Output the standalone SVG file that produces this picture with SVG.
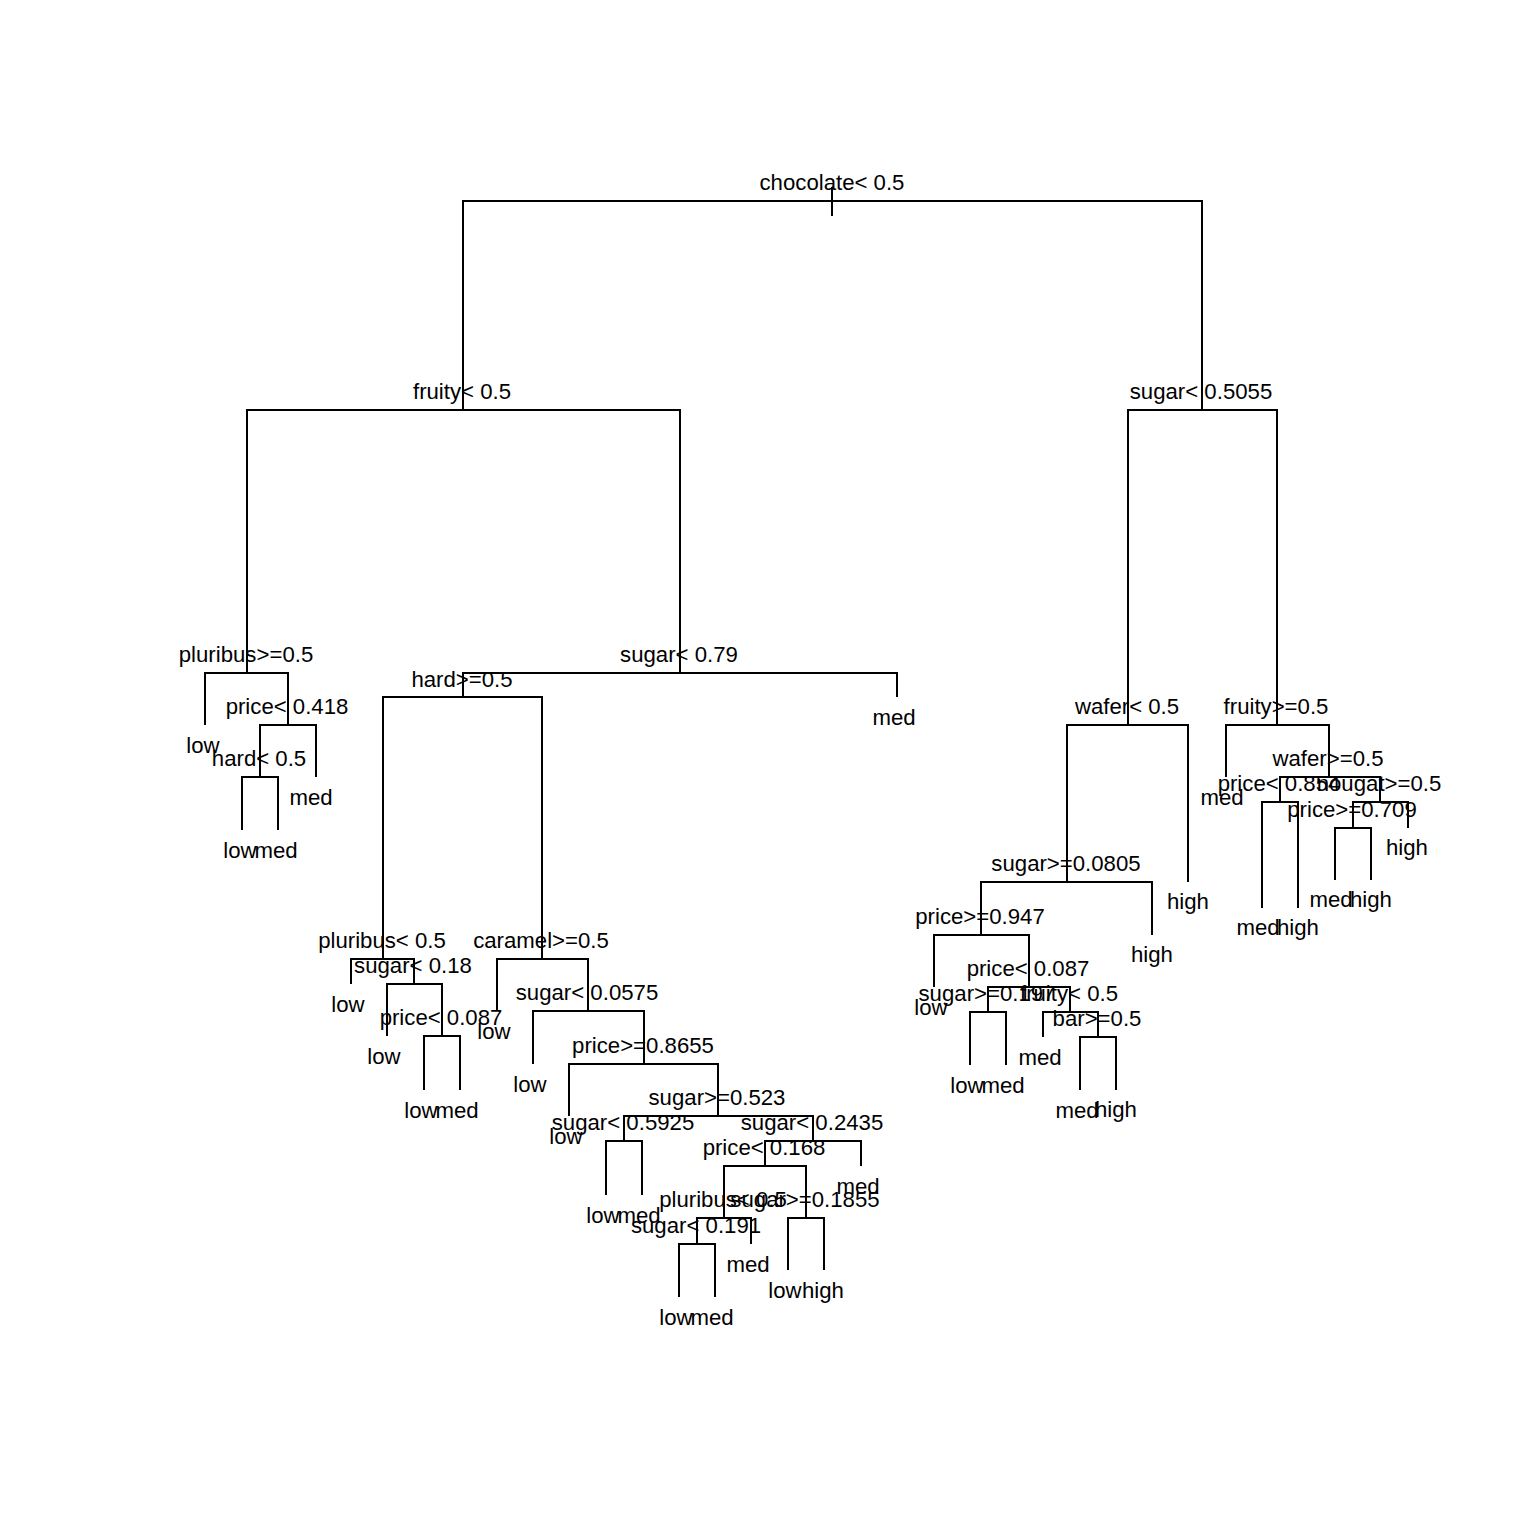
<svg xmlns="http://www.w3.org/2000/svg" width="1536" height="1536" viewBox="0 0 1536 1536">
<style>
.c{fill:none;stroke:#000;stroke-width:2;stroke-linecap:butt}
text{font-family:"Liberation Sans",Arial,sans-serif;font-size:22.2px;fill:#000;text-anchor:middle}
</style>
<rect width="1536" height="1536" fill="#fff"/>
<g id="connectors" class="c">
<path d="M832,187V216"/>
<path d="M832,201H463V410"/>
<path d="M832,201H1202V410"/>
<path d="M463,410H247V673"/>
<path d="M463,410H680V673"/>
<path d="M247,673H205V725"/>
<path d="M247,673H288V725"/>
<path d="M288,725H260V777"/>
<path d="M288,725H316V777"/>
<path d="M260,777H242V830"/>
<path d="M260,777H278V830"/>
<path d="M680,673H463V697"/>
<path d="M680,673H897V697"/>
<path d="M463,697H383V959"/>
<path d="M463,697H542V959"/>
<path d="M383,959H351V984"/>
<path d="M383,959H414V984"/>
<path d="M414,984H387V1036"/>
<path d="M414,984H442V1036"/>
<path d="M442,1036H424V1090"/>
<path d="M442,1036H460V1090"/>
<path d="M542,959H497V1011"/>
<path d="M542,959H588V1011"/>
<path d="M588,1011H533V1064"/>
<path d="M588,1011H644V1064"/>
<path d="M644,1064H569V1116"/>
<path d="M644,1064H718V1116"/>
<path d="M718,1116H624V1141"/>
<path d="M718,1116H813V1141"/>
<path d="M624,1141H606V1195"/>
<path d="M624,1141H642V1195"/>
<path d="M813,1141H765V1166"/>
<path d="M813,1141H861V1166"/>
<path d="M765,1166H724V1218"/>
<path d="M765,1166H806V1218"/>
<path d="M724,1218H697V1244"/>
<path d="M724,1218H751V1244"/>
<path d="M697,1244H679V1297"/>
<path d="M697,1244H715V1297"/>
<path d="M806,1218H788V1270"/>
<path d="M806,1218H824V1270"/>
<path d="M1202,410H1128V725"/>
<path d="M1202,410H1277V725"/>
<path d="M1128,725H1067V882"/>
<path d="M1128,725H1188V882"/>
<path d="M1067,882H981V935"/>
<path d="M1067,882H1152V935"/>
<path d="M981,935H934V987"/>
<path d="M981,935H1029V987"/>
<path d="M1029,987H988V1012"/>
<path d="M1029,987H1070V1012"/>
<path d="M988,1012H970V1065"/>
<path d="M988,1012H1006V1065"/>
<path d="M1070,1012H1043V1037"/>
<path d="M1070,1012H1098V1037"/>
<path d="M1098,1037H1080V1090"/>
<path d="M1098,1037H1116V1090"/>
<path d="M1277,725H1226V777"/>
<path d="M1277,725H1329V777"/>
<path d="M1329,777H1280V802"/>
<path d="M1329,777H1380V802"/>
<path d="M1280,802H1262V908"/>
<path d="M1280,802H1298V908"/>
<path d="M1380,802H1353V828"/>
<path d="M1380,802H1408V828"/>
<path d="M1353,828H1335V880"/>
<path d="M1353,828H1371V880"/>
</g>
<g id="n1"><text x="832" y="190">chocolate&lt; 0.5</text></g>
<g id="n2"><text x="462" y="399">fruity&lt; 0.5</text></g>
<g id="n3"><text x="1201" y="399">sugar&lt; 0.5055</text></g>
<g id="n4"><text x="246" y="662">pluribus&gt;=0.5</text></g>
<g id="n5"><text x="679" y="662">sugar&lt; 0.79</text></g>
<g id="n8"><text x="203" y="753">low</text></g>
<g id="n9"><text x="287" y="714">price&lt; 0.418</text></g>
<g id="n18"><text x="259" y="766">hard&lt; 0.5</text></g>
<g id="n36"><text x="240" y="858">low</text></g>
<g id="n37"><text x="276" y="858">med</text></g>
<g id="n19"><text x="311" y="805">med</text></g>
<g id="n10"><text x="462" y="687">hard&gt;=0.5</text></g>
<g id="n11"><text x="894" y="725">med</text></g>
<g id="n20"><text x="382" y="948">pluribus&lt; 0.5</text></g>
<g id="n40"><text x="348" y="1012">low</text></g>
<g id="n41"><text x="413" y="973">sugar&lt; 0.18</text></g>
<g id="n82"><text x="384" y="1064">low</text></g>
<g id="n83"><text x="441" y="1025">price&lt; 0.087</text></g>
<g id="n166"><text x="421" y="1118">low</text></g>
<g id="n167"><text x="457" y="1118">med</text></g>
<g id="n21"><text x="541" y="948">caramel&gt;=0.5</text></g>
<g id="n42"><text x="494" y="1039">low</text></g>
<g id="n43"><text x="587" y="1000">sugar&lt; 0.0575</text></g>
<g id="n86"><text x="530" y="1092">low</text></g>
<g id="n87"><text x="643" y="1053">price&gt;=0.8655</text></g>
<g id="n174"><text x="566" y="1144">low</text></g>
<g id="n175"><text x="717" y="1105">sugar&gt;=0.523</text></g>
<g id="n350"><text x="623" y="1130">sugar&lt; 0.5925</text></g>
<g id="n700"><text x="603" y="1223">low</text></g>
<g id="n701"><text x="639" y="1223">med</text></g>
<g id="n351"><text x="812" y="1130">sugar&lt; 0.2435</text></g>
<g id="n702"><text x="764" y="1155">price&lt; 0.168</text></g>
<g id="n1404"><text x="723" y="1207">pluribus&lt; 0.5</text></g>
<g id="n2808"><text x="696" y="1233">sugar&lt; 0.191</text></g>
<g id="n5616"><text x="676" y="1325">low</text></g>
<g id="n5617"><text x="712" y="1325">med</text></g>
<g id="n2809"><text x="748" y="1272">med</text></g>
<g id="n1405"><text x="805" y="1207">sugar&gt;=0.1855</text></g>
<g id="n2810"><text x="785" y="1298">low</text></g>
<g id="n2811"><text x="823" y="1298">high</text></g>
<g id="n703"><text x="858" y="1194">med</text></g>
<g id="n6"><text x="1127" y="714">wafer&lt; 0.5</text></g>
<g id="n7"><text x="1276" y="714">fruity&gt;=0.5</text></g>
<g id="n12"><text x="1066" y="871">sugar&gt;=0.0805</text></g>
<g id="n13"><text x="1188" y="909">high</text></g>
<g id="n24"><text x="980" y="924">price&gt;=0.947</text></g>
<g id="n25"><text x="1152" y="962">high</text></g>
<g id="n48"><text x="931" y="1015">low</text></g>
<g id="n49"><text x="1028" y="976">price&lt; 0.087</text></g>
<g id="n98"><text x="987" y="1001">sugar&gt;=0.197</text></g>
<g id="n196"><text x="967" y="1093">low</text></g>
<g id="n197"><text x="1003" y="1093">med</text></g>
<g id="n99"><text x="1069" y="1001">fruity&lt; 0.5</text></g>
<g id="n198"><text x="1040" y="1065">med</text></g>
<g id="n199"><text x="1097" y="1026">bar&gt;=0.5</text></g>
<g id="n398"><text x="1077" y="1118">med</text></g>
<g id="n399"><text x="1116" y="1117">high</text></g>
<g id="n14"><text x="1222" y="805">med</text></g>
<g id="n15"><text x="1328" y="766">wafer&gt;=0.5</text></g>
<g id="n30"><text x="1279" y="791">price&lt; 0.854</text></g>
<g id="n60"><text x="1258" y="935">med</text></g>
<g id="n61"><text x="1298" y="935">high</text></g>
<g id="n31"><text x="1379" y="791">nougat&gt;=0.5</text></g>
<g id="n62"><text x="1352" y="817">price&gt;=0.709</text></g>
<g id="n124"><text x="1331" y="907">med</text></g>
<g id="n125"><text x="1371" y="907">high</text></g>
<g id="n63"><text x="1407" y="855">high</text></g>
</svg>
